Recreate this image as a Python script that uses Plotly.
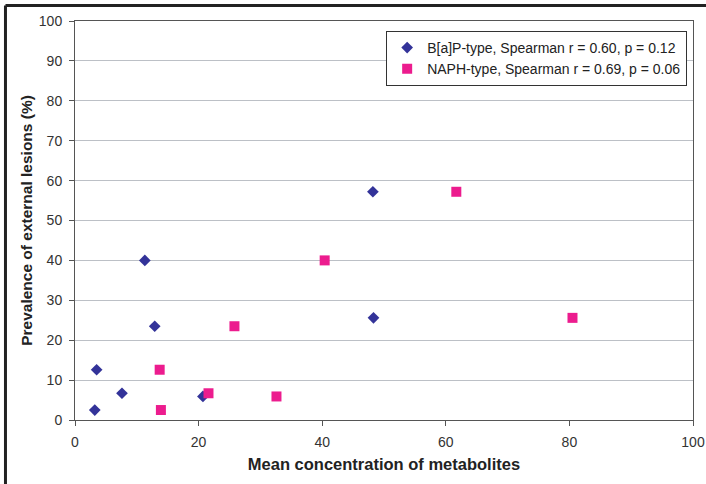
import plotly.graph_objects as go

bap_x = [3.2, 3.5, 7.6, 11.3, 12.9, 20.7, 48.2, 48.3]
bap_y = [2.5, 12.6, 6.7, 40.0, 23.5, 5.9, 57.2, 25.6]
naph_x = [13.7, 13.9, 21.6, 25.8, 32.6, 40.4, 61.7, 80.5]
naph_y = [12.6, 2.5, 6.7, 23.5, 5.9, 40.0, 57.2, 25.6]

bap_name = "B[a]P-type, Spearman r = 0.60, p = 0.12"
naph_name = "NAPH-type, Spearman r = 0.69, p = 0.06"
x_title = "Mean concentration of metabolites"
y_title = "Prevalence of external lesions (%)"
ticks = [0, 20, 40, 60, 80, 100]
yticks = [0, 10, 20, 30, 40, 50, 60, 70, 80, 90, 100]

fig = go.Figure()
fig.add_trace(go.Scatter(x=bap_x, y=bap_y, mode="markers", name=bap_name,
                         marker=dict(symbol="diamond", size=9, color="#333399")))
fig.add_trace(go.Scatter(x=naph_x, y=naph_y, mode="markers", name=naph_name,
                         marker=dict(symbol="square", size=10, color="#ec1c8e")))

font = "Liberation Sans, Arial, sans-serif"
fig.update_layout(
    width=706, height=484,
    margin=dict(l=75, r=13, t=21, b=64),
    paper_bgcolor="white", plot_bgcolor="white",
    font=dict(family=font, size=14, color="#333333"),
    showlegend=True,
    legend=dict(x=0.5035, y=0.975, xanchor="left", yanchor="top",
                bgcolor="white", bordercolor="#333333", borderwidth=1,
                font=dict(size=14, color="#222222"), itemwidth=30,
                tracegroupgap=0),
    xaxis=dict(range=[0, 100], tickvals=ticks, showgrid=False, zeroline=False,
               showline=True, linecolor="#555555", linewidth=1, mirror=True,
               ticks="outside", ticklen=5, tickcolor="#555555", automargin=False,
               ticklabelstandoff=4,
               title=dict(text=x_title, font=dict(size=16.5, color="#222222", family=font, weight="bold"), standoff=9)),
    yaxis=dict(range=[0, 100], tickvals=yticks, showgrid=True, gridcolor="#bcc0c6",
               zeroline=False, showline=True, linecolor="#555555", linewidth=1, mirror=True,
               ticks="outside", ticklen=5, tickcolor="#555555", automargin=False,
               ticklabelstandoff=4,
               title=dict(text=y_title, font=dict(size=15.5, color="#222222", family=font, weight="bold"), standoff=2)),
)

# outer frame lines (left and top)
fig.add_shape(type="line", xref="paper", yref="paper", x0=-0.1125, x1=-0.1125, y0=-0.2, y1=1.0388,
              line=dict(color="#222222", width=3))
fig.add_shape(type="line", xref="paper", yref="paper", x0=-0.1125, x1=1.03, y0=1.0388, y1=1.0388,
              line=dict(color="#222222", width=3))

fig.write_html("out.html", config={"displayModeBar": False},
               post_script="document.body.style.margin='0px';")
